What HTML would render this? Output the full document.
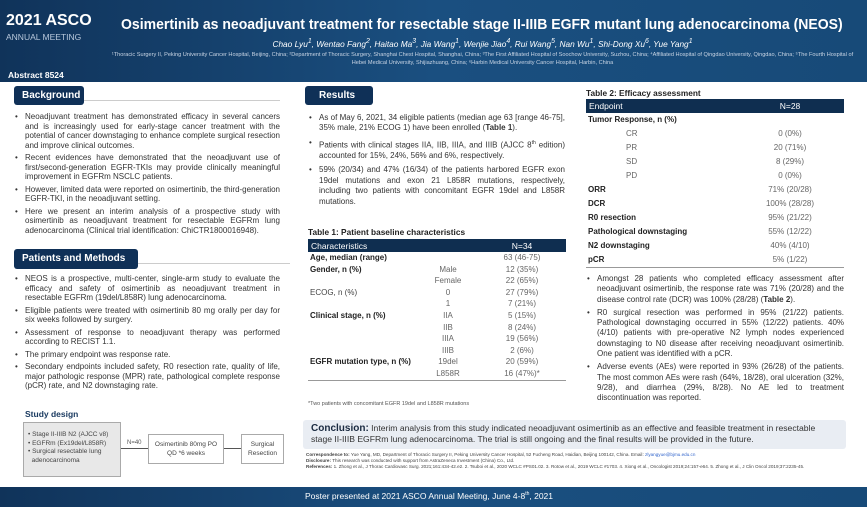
<!DOCTYPE html>
<html><head><meta charset="utf-8"><style>
*{margin:0;padding:0;box-sizing:border-box}
body{width:867px;height:507px;background:#fff;position:relative;overflow:hidden;font-family:"Liberation Sans",sans-serif;color:#333}
.a{position:absolute}
.hdr{left:0;top:0;width:867px;height:82px;background:linear-gradient(90deg,#10335a,#1a4f80 50%,#174a78);}
.tab{position:absolute;background:#0f3057;color:#fff;font-weight:bold;font-size:10px;border-radius:3px;padding:4px 8px;line-height:11px}
.rule{position:absolute;height:1px;background:#ccc}
ul{list-style:none}
li{position:relative;padding-left:11px;margin-bottom:3px;text-align:justify;font-size:8px;line-height:9.5px;color:#333}
li:before{content:"•";position:absolute;left:1px;top:0}
.r li{line-height:10.4px;margin-bottom:4px}
table{border-collapse:collapse;font-size:8px;color:#444}
td{height:11.6px;padding:0 2px;line-height:11.6px}
th{background:#0f2e50;color:#fff;font-weight:normal;text-align:left;padding:0 3px;height:13px;font-size:8.5px}
.b{font-weight:bold;color:#222}
.c{text-align:center;color:#666}
.box{position:absolute;border:1px solid #aaa;font-size:6.5px;color:#444;line-height:8.5px}
</style></head><body>
<div class="a hdr"></div>
<div class="a" style="left:6px;top:12px;color:#fff;font-size:16px;font-weight:bold">2021 ASCO</div>
<div class="a" style="left:6px;top:32px;color:#b8c8dc;font-size:8.5px">ANNUAL MEETING</div>
<div class="a" style="left:8px;top:70px;color:#fff;font-size:8.5px;font-weight:bold">Abstract 8524</div>
<div class="a" style="left:121px;top:16px;color:#fff;font-size:15px;font-weight:bold;white-space:nowrap;transform:scaleX(0.935);transform-origin:0 0">Osimertinib as neoadjuvant treatment for resectable stage II-IIIB EGFR mutant lung adenocarcinoma (NEOS)</div>
<div class="a" style="left:100px;top:38px;width:765px;text-align:center;color:#fff;font-size:8.3px;font-style:italic">Chao Lyu<sup>1</sup>, Wentao Fang<sup>2</sup>, Haitao Ma<sup>3</sup>, Jia Wang<sup>1</sup>, Wenjie Jiao<sup>4</sup>, Rui Wang<sup>5</sup>, Nan Wu<sup>1</sup>, Shi-Dong Xu<sup>6</sup>, Yue Yang<sup>1</sup></div>
<div class="a" style="left:110px;top:51px;width:745px;text-align:center;color:#c8d4e4;font-size:5.6px;line-height:8px">¹Thoracic Surgery II, Peking University Cancer Hospital, Beijing, China; ²Department of Thoracic Surgery, Shanghai Chest Hospital, Shanghai, China; ³The First Affiliated Hospital of Soochow University, Suzhou, China; ⁴Affiliated Hospital of Qingdao University, Qingdao, China; ⁵The Fourth Hospital of Hebei Medical University, Shijiazhuang, China; ⁶Harbin Medical University Cancer Hospital, Harbin, China</div>

<div class="tab" style="left:14px;top:86px;width:70px;height:19px">Background</div>
<div class="rule" style="left:84px;top:100px;width:196px"></div>
<ul class="a" style="left:14px;top:112px;width:266px">
<li>Neoadjuvant treatment has demonstrated efficacy in several cancers and is increasingly used for early-stage cancer treatment with the potential of cancer downstaging to enhance complete surgical resection and improve clinical outcomes.</li>
<li>Recent evidences have demonstrated that the neoadjuvant use of first/second-generation EGFR-TKIs may provide clinically meaningful improvement in EGFRm NSCLC patients.</li>
<li>However, limited data were reported on osimertinib, the third-generation EGFR-TKI, in the neoadjuvant setting.</li>
<li>Here we present an interim analysis of a prospective study with osimertinib as neoadjuvant treatment for resectable EGFRm lung adenocarcinoma (Clinical trial identification: ChiCTR1800016948).</li>
</ul>
<div class="tab" style="left:14px;top:249px;width:124px;height:20px">Patients and Methods</div>
<div class="rule" style="left:138px;top:263px;width:152px"></div>
<ul class="a" style="left:14px;top:274px;width:266px">
<li>NEOS is a prospective, multi-center, single-arm study to evaluate the efficacy and safety of osimertinib as neoadjuvant treatment in resectable EGFRm (19del/L858R) lung adenocarcinoma.</li>
<li>Eligible patients were treated with osimertinib 80 mg orally per day for six weeks followed by surgery.</li>
<li>Assessment of response to neoadjuvant therapy was performed according to RECIST 1.1.</li>
<li>The primary endpoint was response rate.</li>
<li>Secondary endpoints included safety, R0 resection rate, quality of life, major pathologic response (MPR) rate, pathological complete response (pCR) rate, and N2 downstaging rate.</li>
</ul>
<div class="a b" style="left:25px;top:409px;font-size:8.5px;color:#1a3a60">Study design</div>
<div class="box" style="left:23px;top:422px;width:98px;height:55px;background:#e8e8e8;padding:8px 4px">• Stage II-IIIB N2 (AJCC v8)<br>• EGFRm (Ex19del/L858R)<br>• Surgical resectable lung<br>&nbsp;&nbsp;adenocarcinoma</div>
<div class="a" style="left:121px;top:448px;width:27px;height:1px;background:#555"></div>
<div class="a" style="left:127px;top:440px;font-size:6px;color:#555">N=40</div>
<div class="box" style="left:148px;top:434px;width:76px;height:30px;text-align:center;padding-top:6px">Osimertinib 80mg PO<br>QD *6 weeks</div>
<div class="a" style="left:224px;top:448px;width:17px;height:1px;background:#555"></div>
<div class="box" style="left:241px;top:434px;width:43px;height:30px;text-align:center;padding-top:6px">Surgical<br>Resection</div>

<div class="tab" style="left:305px;top:86px;width:68px;height:19px;padding-left:14px">Results</div>
<ul class="a r" style="left:308px;top:113px;width:257px">
<li>As of May 6, 2021, 34 eligible patients (median age 63 [range 46-75], 35% male, 21% ECOG 1) have been enrolled (<b>Table 1</b>).</li>
<li>Patients with clinical stages IIA, IIB, IIIA, and IIIB (AJCC 8<sup style="font-size:5px">th</sup> edition) accounted for 15%, 24%, 56% and 6%, respectively.</li>
<li>59% (20/34) and 47% (16/34) of the patients harbored EGFR exon 19del mutations and exon 21 L858R mutations, respectively, including two patients with concomitant EGFR 19del and L858R mutations.</li>
</ul>
<div class="a b" style="left:308px;top:227px;font-size:8.3px">Table 1: Patient baseline characteristics</div>
<table class="a" style="left:308px;top:239px;width:258px">
<tr><th style="width:110px">Characteristics</th><th style="width:60px"></th><th style="text-align:center">N=34</th></tr>
<tr><td class="b">Age, median (range)</td><td></td><td class="c">63 (46-75)</td></tr>
<tr><td class="b">Gender, n (%)</td><td class="c">Male</td><td class="c">12 (35%)</td></tr>
<tr><td></td><td class="c">Female</td><td class="c">22 (65%)</td></tr>
<tr><td>ECOG, n (%)</td><td class="c">0</td><td class="c">27 (79%)</td></tr>
<tr><td></td><td class="c">1</td><td class="c">7 (21%)</td></tr>
<tr><td class="b">Clinical stage, n (%)</td><td class="c">IIA</td><td class="c">5 (15%)</td></tr>
<tr><td></td><td class="c">IIB</td><td class="c">8 (24%)</td></tr>
<tr><td></td><td class="c">IIIA</td><td class="c">19 (56%)</td></tr>
<tr><td></td><td class="c">IIIB</td><td class="c">2 (6%)</td></tr>
<tr><td class="b">EGFR mutation type, n (%)</td><td class="c">19del</td><td class="c">20 (59%)</td></tr>
<tr style="border-bottom:1px solid #999"><td></td><td class="c">L858R</td><td class="c">16 (47%)*</td></tr>
</table>
<div class="a" style="left:308px;top:401px;font-size:5.5px;color:#555">*Two patients with concomitant EGFR 19del and L858R mutations</div>

<div class="a b" style="left:586px;top:88px;font-size:8.3px">Table 2: Efficacy assessment</div>
<table class="a" style="left:586px;top:99px;width:258px">
<tr><th style="width:150px;height:14px">Endpoint</th><th style="text-align:center">N=28</th></tr>
<tr><td class="b" style="height:14px">Tumor Response, n (%)</td><td></td></tr>
<tr><td class="c" style="height:14px;padding-left:40px;text-align:left">CR</td><td class="c">0 (0%)</td></tr>
<tr><td class="c" style="height:14px;padding-left:40px;text-align:left">PR</td><td class="c">20 (71%)</td></tr>
<tr><td class="c" style="height:14px;padding-left:40px;text-align:left">SD</td><td class="c">8 (29%)</td></tr>
<tr><td class="c" style="height:14px;padding-left:40px;text-align:left">PD</td><td class="c">0 (0%)</td></tr>
<tr><td class="b" style="height:14px">ORR</td><td class="c">71% (20/28)</td></tr>
<tr><td class="b" style="height:14px">DCR</td><td class="c">100% (28/28)</td></tr>
<tr><td class="b" style="height:14px">R0 resection</td><td class="c">95% (21/22)</td></tr>
<tr><td class="b" style="height:14px">Pathological downstaging</td><td class="c">55% (12/22)</td></tr>
<tr><td class="b" style="height:14px">N2 downstaging</td><td class="c">40% (4/10)</td></tr>
<tr style="border-bottom:1px solid #999"><td class="b" style="height:14px">pCR</td><td class="c">5% (1/22)</td></tr>
</table>
<ul class="a" style="left:586px;top:274px;width:258px">
<li style="line-height:10.3px">Amongst 28 patients who completed efficacy assessment after neoadjuvant osimertinib, the response rate was 71% (20/28) and the disease control rate (DCR) was 100% (28/28) (<b>Table 2</b>).</li>
<li style="line-height:10.3px">R0 surgical resection was performed in 95% (21/22) patients. Pathological downstaging occurred in 55% (12/22) patients. 40% (4/10) patients with pre-operative N2 lymph nodes experienced downstaging to N0 disease after receiving neoadjuvant osimertinib. One patient was identified with a pCR.</li>
<li style="line-height:10.3px">Adverse events (AEs) were reported in 93% (26/28) of the patients. The most common AEs were rash (64%, 18/28), oral ulceration (32%, 9/28), and diarrhea (29%, 8/28). No AE led to treatment discontinuation was reported.</li>
</ul>

<div class="a" style="left:303px;top:420px;width:543px;height:29px;background:#e9edf3;border-radius:3px;padding:3px 8px;font-size:8.6px;line-height:11px;color:#333"><b style="font-size:10px;color:#1a2a40">Conclusion:</b> Interim analysis from this study indicated neoadjuvant osimertinib as an effective and feasible treatment in resectable stage II-IIIB EGFRm lung adenocarcinoma. The trial is still ongoing and the final results will be provided in the future.</div>
<div class="a" style="left:306px;top:452px;width:540px;font-size:4.6px;line-height:6.2px;color:#444;white-space:nowrap;overflow:hidden"><b>Correspondence to:</b> Yue Yang, MD, Department of Thoracic Surgery II, Peking University Cancer Hospital, 52 Fucheng Road, Haidian, Beijing 100142, China. Email: <span style="color:#36c">zlyangyue@bjmu.edu.cn</span><br><b>Disclosure:</b> This research was conducted with support from AstraZeneca Investment (China) Co., Ltd.<br><b>References:</b> 1. Zhong et al., J Thorac Cardiovasc Surg. 2021;161:434-42.e2. 2. Tsuboi et al., 2020 WCLC #PS01.02. 3. Rotow et al., 2019 WCLC #1703. 4. Xiong et al., Oncologist 2019;24:157-e64. 5. Zhong et al., J Clin Oncol 2019;37:2235-45.</div>
<div class="a" style="left:0;top:487px;width:867px;height:20px;background:linear-gradient(90deg,#10335a,#1a4f80 50%,#174a78)"></div>
<div class="a" style="left:305px;top:491px;color:#fff;font-size:8.5px">Poster presented at 2021 ASCO Annual Meeting, June 4-8<sup style="font-size:5px">th</sup>, 2021</div>
</body></html>
